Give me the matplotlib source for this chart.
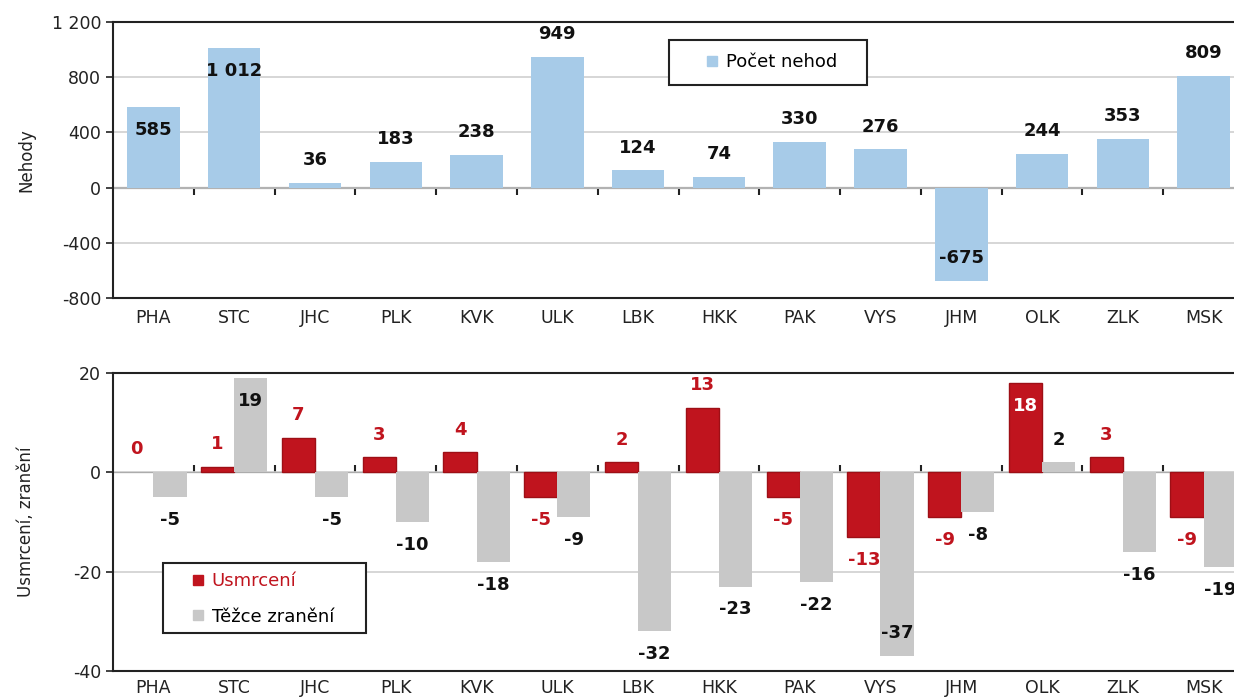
import matplotlib.pyplot as plt
import matplotlib.ticker as mticker
from matplotlib.lines import Line2D
from matplotlib.patches import Rectangle
import numpy as np

plt.rcParams['font.family'] = ['DejaVu Sans']
plt.rcParams['axes.unicode_minus'] = False

regions = ['PHA', 'STC', 'JHC', 'PLK', 'KVK', 'ULK', 'LBK', 'HKK', 'PAK', 'VYS',
           'JHM', 'OLK', 'ZLK', 'MSK']
nehody = [585, 1012, 36, 183, 238, 949, 124, 74, 330, 276, -675, 244, 353, 809]
usmrceni = [0, 1, 7, 3, 4, -5, 2, 13, -5, -13, -9, 18, 3, -9]
tezce_zraneni = [-5, 19, -5, -10, -18, -9, -32, -23, -22, -37, -8, 2, -16, -19]

# labels drawn inside the bar end instead of beyond it
nehody_inside = ['PHA', 'STC', 'JHM']
usmrceni_inside = ['OLK']
zraneni_inside = ['STC', 'VYS']

blue = '#A7CBE8'
red = '#C0141E'
grey = '#C8C8C8'
dark = '#222222'


def fmt_cz(v, pos=None):
    return '{:,}'.format(int(v)).replace(',', ' ')


def value_labels(ax, xs, vals, inside, color, inside_color=None):
    for x, v, r in zip(xs, vals, regions):
        inn = r in inside
        up = (v >= 0) != inn
        off = 16.5 if up else -16.5
        c = inside_color if (inn and inside_color) else color
        ax.annotate(fmt_cz(v), (x, v), xytext=(0, off), textcoords='offset points',
                    ha='center', va='center', fontsize=13, fontweight='bold', color=c)


def style_axes(ax, zero_frac, pad=8):
    x = np.arange(len(regions))
    ax.set_xlim(-0.5, len(regions) - 0.5)
    ax.set_xticks(x)
    ax.set_xticklabels(regions, fontsize=12.5, color=dark)
    ax.tick_params(axis='x', length=0, pad=pad)
    ax.tick_params(axis='y', direction='out', length=5, labelsize=12.5,
                   colors=dark, width=1.2)
    ax.grid(axis='y', color='#CFCFCF', linewidth=1.2)
    ax.set_axisbelow(True)
    for s in ['left', 'bottom', 'top']:
        ax.spines[s].set_linewidth(1.5)
        ax.spines[s].set_color(dark)
    ax.spines['right'].set_visible(False)
    sec = ax.secondary_xaxis(zero_frac)
    sec.set_xticks(np.arange(len(regions) - 1) + 0.5)
    sec.set_xticklabels([])
    sec.tick_params(direction='out', length=5, width=1.5, colors=dark)
    sec.spines['bottom'].set_linewidth(1.5)
    sec.spines['bottom'].set_color(dark)


def boxed_legend(ax, handles, anchor, box, spacing=0.8):
    ax.add_patch(Rectangle(box[:2], box[2], box[3], transform=ax.transAxes,
                           facecolor='white', edgecolor=dark, linewidth=1.5,
                           zorder=4, clip_on=False))
    leg = ax.legend(handles=handles, loc='center left', bbox_to_anchor=anchor,
                    fontsize=13, frameon=False, handlelength=1.0, borderpad=0,
                    borderaxespad=0, handletextpad=0.25, labelspacing=spacing)
    leg.set_zorder(5)
    return leg


def square(color, label):
    return Line2D([], [], marker='s', linestyle='', color=color, markersize=7,
                  label=label)


fig = plt.figure(figsize=(12.34, 6.97), dpi=100)

# top panel: accidents
ax1 = fig.add_axes([0.0916, 0.5725, 0.9165, 0.396])
x = np.arange(len(regions))
ax1.bar(x, nehody, width=0.65, color=blue, zorder=2)
ax1.set_ylim(-800, 1200)
ax1.set_yticks([-800, -400, 0, 400, 800, 1200])
ax1.yaxis.set_major_formatter(mticker.FuncFormatter(fmt_cz))
style_axes(ax1, 0.4)
value_labels(ax1, x, nehody, nehody_inside, '#111111')
ax1.set_ylabel('Nehody', fontsize=12, color=dark)
ax1.yaxis.set_label_coords(-0.069, 0.5)
boxed_legend(ax1, [square(blue, 'Počet nehod')], (0.5217, 0.8533),
             (0.4916, 0.7717, 0.175, 0.163))

# bottom panel: killed and seriously injured
ax2 = fig.add_axes([0.0916, 0.0373, 0.9165, 0.4275])
w = 0.41
red_edges = ['#9E0F16' if v != 0 else 'none' for v in usmrceni]
ax2.bar(x - w / 2, usmrceni, width=w, color=red, edgecolor=red_edges,
        linewidth=1, zorder=2)
ax2.bar(x + w / 2, tezce_zraneni, width=w, color=grey, zorder=2)
ax2.set_ylim(-40, 20)
ax2.set_yticks([-40, -20, 0, 20])
style_axes(ax2, 2 / 3, pad=6)
value_labels(ax2, x - w / 2, usmrceni, usmrceni_inside, red, inside_color='white')
value_labels(ax2, x + w / 2, tezce_zraneni, zraneni_inside, '#111111')
ax2.set_ylabel('Usmrcení, zranění', fontsize=12, color=dark)
ax2.yaxis.set_label_coords(-0.069, 0.5)
leg2 = boxed_legend(ax2, [square(red, 'Usmrcení'), square(grey, 'Těžce zranění')],
                    (0.0672, 0.2416), (0.0442, 0.1275, 0.1795, 0.2349), spacing=0.95)
leg2.get_texts()[0].set_color(red)

fig.savefig('out.png', dpi=100)
